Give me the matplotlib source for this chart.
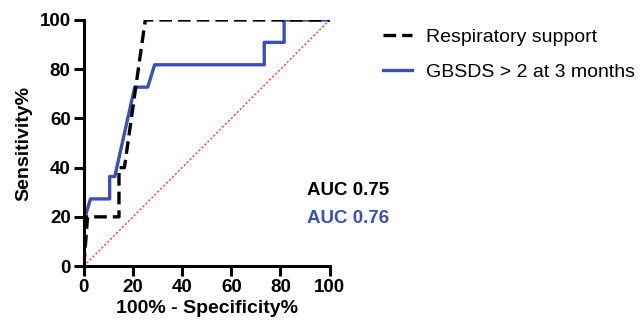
import matplotlib
matplotlib.use("Agg")
import matplotlib.pyplot as plt

plt.rcParams['font.family'] = ['Liberation Sans', 'DejaVu Sans']

# ROC points, in %
resp_fpr = [0, 1.5, 14.3, 14.3, 16.5, 25, 100]
resp_tpr = [0, 20, 20, 40, 40, 100, 100]

gbsds_fpr = [0, 0, 2.7, 10.5, 10.5, 12.6, 20.7, 26, 28.8, 73.4, 73.4, 81.5, 81.5, 100]
gbsds_tpr = [0, 18.2, 27.3, 27.3, 36.4, 36.4, 72.7, 72.7, 81.8, 81.8, 90.9, 90.9, 100, 100]

ref_line = [0, 100]
ticks = [0, 20, 40, 60, 80, 100]

blue = '#3b4fb8'

fig = plt.figure(figsize=(6.4, 3.33), dpi=100)
ax = fig.add_axes([0.131, 0.201, 0.384, 0.739])

ax.plot(ref_line, ref_line, color='#e8412f', lw=1.0, linestyle=(0, (1.5, 1.5)), zorder=1)
ax.plot(gbsds_fpr, gbsds_tpr, color=blue, lw=2.4, label='GBSDS > 2 at 3 months', zorder=2)
ax.plot(resp_fpr, resp_tpr, color='black', lw=2.4, linestyle=(0, (3.8, 1.8)),
        label='Respiratory support', zorder=3)

ax.set_xlim(0, 100)
ax.set_ylim(0, 100)
ax.set_xticks(ticks)
ax.set_yticks(ticks)
for s in ['top', 'right']:
    ax.spines[s].set_visible(False)
for s in ['left', 'bottom']:
    ax.spines[s].set_linewidth(2.2)
ax.tick_params(width=2.2, length=7.5, labelsize=13.5, pad=2)
for lab in ax.get_xticklabels() + ax.get_yticklabels():
    lab.set_fontweight('bold')

ax.set_xlabel('100% - Specificity%', fontsize=14, fontweight='bold', labelpad=3)
ax.set_ylabel('Sensitivity%', fontsize=14, fontweight='bold', labelpad=5)

handles, labels = ax.get_legend_handles_labels()
fig.legend(handles[::-1], labels[::-1], loc='upper left', bbox_to_anchor=(0.598, 0.915),
           frameon=False, fontsize=14, handlelength=1.5, handletextpad=0.72,
           labelspacing=0.9, borderpad=0, borderaxespad=0)

fig.text(0.48, 0.414, 'AUC 0.75', fontsize=13.5, fontweight='bold', color='black', va='baseline')
fig.text(0.48, 0.330, 'AUC 0.76', fontsize=13.5, fontweight='bold', color=blue, va='baseline')

fig.savefig('out.png', dpi=100)
